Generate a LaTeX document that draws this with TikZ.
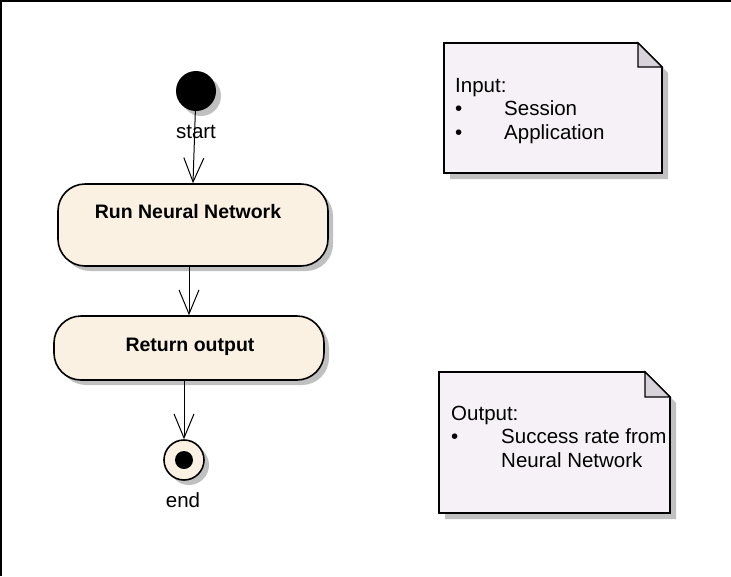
\documentclass[tikz,border=0pt]{standalone}
\usepackage{fontspec}
\setmainfont{Liberation Sans}
\usetikzlibrary{arrows.meta,shadows}

\definecolor{actfill}{RGB}{251,241,226}
\definecolor{notefill}{RGB}{246,241,246}
\definecolor{foldfill}{RGB}{216,211,218}
\definecolor{shadegray}{RGB}{192,192,192}

\tikzset{
  txt/.style={font=\fontsize{20.5}{24}\selectfont, inner sep=0pt},
  boldtxt/.style={font=\fontsize{19.5}{24}\selectfont\bfseries, inner sep=0pt},
  shade/.style={drop shadow={shadow xshift=5pt, shadow yshift=-5pt, fill=shadegray, opacity=1}},
  actbox/.style={draw, line width=1.6pt, fill=actfill, rounded corners=27pt, minimum width=270pt, shade},
  flow/.style={line width=1pt, -{Straight Barb[length=24pt, width=20pt]}},
}

\begin{document}
\begin{tikzpicture}[x=1pt,y=-1pt]
        \useasboundingbox (0,0) rectangle (731,576);
        %\draw [help lines, step=50] (0,0) grid (731,576);
        \draw [line width=1.5pt] (0.75,576) -- (0.75,0.75) -- (731,0.75);

        % notes
        \fill [shadegray] (450,49) -- (644,49) -- (668,73) -- (668,179) -- (450,179) -- cycle;
        \draw [line width=1.6pt, fill=notefill] (444,43) -- (638,43) -- (662,67) -- (662,173) -- (444,173) -- cycle;
        \draw [line width=1.2pt, fill=foldfill] (638,43) -- (638,67) -- (662,67) -- cycle;

        \fill [shadegray] (445,378) -- (651,378) -- (676,403) -- (676,519) -- (445,519) -- cycle;
        \draw [line width=1.6pt, fill=notefill] (439,372) -- (645,372) -- (670,397) -- (670,513) -- (439,513) -- cycle;
        \draw [line width=1.2pt, fill=foldfill] (645,372) -- (645,397) -- (670,397) -- cycle;

        \node [txt, anchor=base west] (inhead) at (455,92) {Input:};
        \node [txt, anchor=base west] (inb1) at (455,115) {•};
        \node [txt, anchor=base west] (in1) at (504,115) {Session};
        \node [txt, anchor=base west] (inb2) at (455,139) {•};
        \node [txt, anchor=base west] (in2) at (504,139) {Application};

        \node [txt, anchor=base west] (outhead) at (451,420) {Output:};
        \node [txt, anchor=base west] (outb1) at (451,443) {•};
        \node [txt, anchor=base west] (out1) at (501,443) {Success rate from};
        \node [txt, anchor=base west] (out2) at (501,467) {Neural Network};

        % activity
        \node [circle, fill=black, minimum size=40pt, inner sep=0pt, shade] (start) at (196,91) {};
        \node [actbox, minimum height=82pt] (run) at (193,225) {};
        \node [actbox, minimum height=64pt] (ret) at (189,348) {};
        \node [circle, draw, line width=1.6pt, fill=actfill, minimum size=40pt, inner sep=0pt, shade] (end) at (184,460) {};
        \fill (end.center) circle (9);

        \draw [flow] (start.center) -- (run.north -| 193,0);
        \draw [flow] (run.south -| ret) -- (ret.north);
        \draw [flow] (ret.south -| end) -- (end.north);

        \node [txt, anchor=base] (startlbl) at (196,138) {start};
        \node [txt, anchor=base] (endlbl) at (183,507) {end};
        \node [boldtxt, anchor=base] (runlbl) at (188,218) {Run Neural Network};
        \node [boldtxt, anchor=base] (retlbl) at (190,351) {Return output};

\end{tikzpicture}
\end{document}
